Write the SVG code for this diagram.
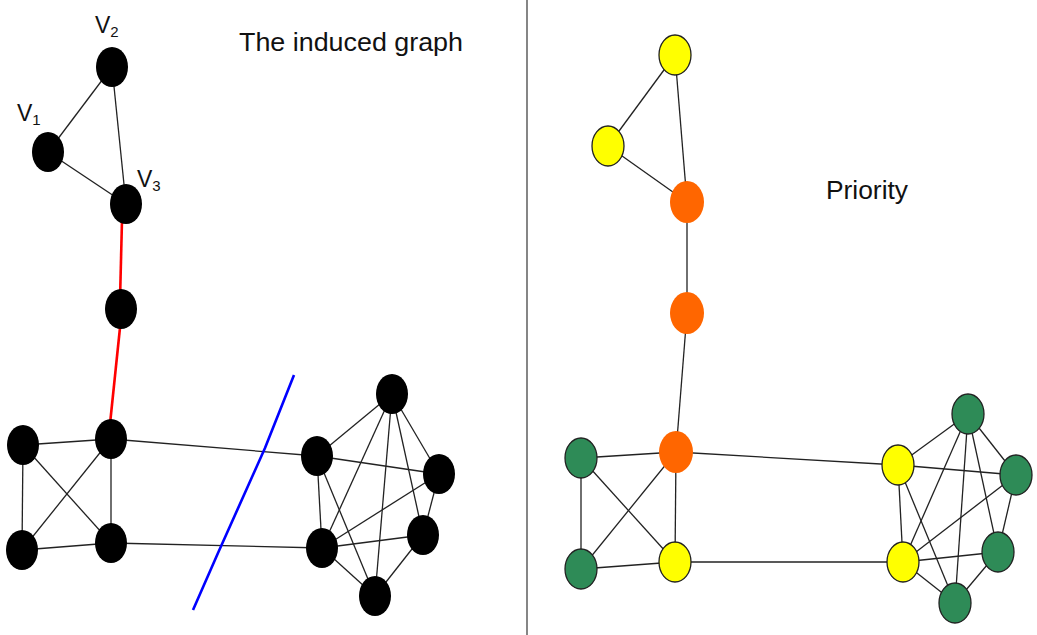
<svg xmlns="http://www.w3.org/2000/svg" width="1037" height="635" viewBox="0 0 1037 635">
<style>
.e{stroke:#222;stroke-width:1.3;fill:none}
.b{fill:#000}
.y{fill:#ffff00;stroke:#222;stroke-width:1.3}
.g{fill:#2e8b57;stroke:#222;stroke-width:1.3}
.o{fill:#ff6600}
.t{font-family:"Liberation Sans",Arial,sans-serif;fill:#111}
</style>
<rect width="1037" height="635" fill="#fff"/>
<line x1="527" y1="0" x2="527" y2="635" stroke="#444" stroke-width="1.3"/>
<g id="connectors">
<!-- left triangle -->
<line class="e" x1="48" y1="152" x2="112" y2="67"/>
<line class="e" x1="112" y1="67" x2="126" y2="204"/>
<line class="e" x1="48" y1="152" x2="126" y2="204"/>
<!-- red path -->
<line x1="122" y1="220" x2="120" y2="300" stroke="#ff0000" stroke-width="2.6"/>
<line x1="121" y1="318" x2="110" y2="424" stroke="#ff0000" stroke-width="2.6"/>
<!-- left square -->
<line class="e" x1="23" y1="445" x2="111" y2="439"/>
<line class="e" x1="23" y1="445" x2="22" y2="550"/>
<line class="e" x1="23" y1="445" x2="111" y2="543"/>
<line class="e" x1="111" y1="439" x2="22" y2="550"/>
<line class="e" x1="111" y1="439" x2="111" y2="543"/>
<line class="e" x1="22" y1="550" x2="111" y2="543"/>
<line class="e" x1="111" y1="439" x2="317" y2="456"/>
<line class="e" x1="111" y1="543" x2="322" y2="548"/>
<!-- left cluster -->
<line class="e" x1="317" y1="456" x2="392" y2="394"/>
<line class="e" x1="317" y1="456" x2="439" y2="474"/>
<line class="e" x1="317" y1="456" x2="322" y2="548"/>
<line class="e" x1="317" y1="456" x2="375" y2="596"/>
<line class="e" x1="392" y1="394" x2="322" y2="548"/>
<line class="e" x1="392" y1="394" x2="375" y2="596"/>
<line class="e" x1="392" y1="394" x2="423" y2="535"/>
<line class="e" x1="392" y1="394" x2="439" y2="474"/>
<line class="e" x1="439" y1="474" x2="423" y2="535"/>
<line class="e" x1="439" y1="474" x2="322" y2="548"/>
<line class="e" x1="322" y1="548" x2="423" y2="535"/>
<line class="e" x1="322" y1="548" x2="375" y2="596"/>
<line class="e" x1="423" y1="535" x2="375" y2="596"/>
<!-- blue cut -->
<polyline points="294,375 265,448 218,553 193,610" fill="none" stroke="#0000ff" stroke-width="2.6" stroke-linejoin="round"/>
<!-- right triangle -->
<line class="e" x1="608" y1="146" x2="675" y2="55"/>
<line class="e" x1="675" y1="55" x2="687" y2="202"/>
<line class="e" x1="608" y1="146" x2="687" y2="202"/>
<line class="e" x1="687" y1="202" x2="687" y2="313"/>
<line class="e" x1="687" y1="313" x2="676" y2="452"/>
<!-- right square -->
<line class="e" x1="581" y1="458" x2="676" y2="452"/>
<line class="e" x1="581" y1="458" x2="581" y2="569"/>
<line class="e" x1="581" y1="458" x2="675" y2="562"/>
<line class="e" x1="676" y1="452" x2="581" y2="569"/>
<line class="e" x1="676" y1="452" x2="675" y2="562"/>
<line class="e" x1="581" y1="569" x2="675" y2="562"/>
<line class="e" x1="676" y1="452" x2="898" y2="465"/>
<line class="e" x1="675" y1="562" x2="903" y2="562"/>
<!-- right cluster -->
<line class="e" x1="898" y1="465" x2="968" y2="414"/>
<line class="e" x1="898" y1="465" x2="1016" y2="475"/>
<line class="e" x1="898" y1="465" x2="903" y2="562"/>
<line class="e" x1="898" y1="465" x2="955" y2="603"/>
<line class="e" x1="968" y1="414" x2="903" y2="562"/>
<line class="e" x1="968" y1="414" x2="955" y2="603"/>
<line class="e" x1="968" y1="414" x2="998" y2="552"/>
<line class="e" x1="968" y1="414" x2="1016" y2="475"/>
<line class="e" x1="1016" y1="475" x2="998" y2="552"/>
<line class="e" x1="1016" y1="475" x2="903" y2="562"/>
<line class="e" x1="903" y1="562" x2="998" y2="552"/>
<line class="e" x1="903" y1="562" x2="955" y2="603"/>
<line class="e" x1="998" y1="552" x2="955" y2="603"/>
</g>
<g id="L-v2"><ellipse class="b" cx="112" cy="67" rx="16" ry="20"/></g>
<g id="L-v1"><ellipse class="b" cx="48" cy="152" rx="16" ry="20"/></g>
<g id="L-v3"><ellipse class="b" cx="126" cy="204" rx="16" ry="20"/></g>
<g id="L-mid"><ellipse class="b" cx="121" cy="309" rx="16" ry="20"/></g>
<g id="L-sq-tl"><ellipse class="b" cx="23" cy="445" rx="16" ry="20"/></g>
<g id="L-sq-tr"><ellipse class="b" cx="111" cy="439" rx="16" ry="20"/></g>
<g id="L-sq-bl"><ellipse class="b" cx="22" cy="550" rx="16" ry="20"/></g>
<g id="L-sq-br"><ellipse class="b" cx="111" cy="543" rx="16" ry="20"/></g>
<g id="L-c-a"><ellipse class="b" cx="317" cy="456" rx="16" ry="20"/></g>
<g id="L-c-top"><ellipse class="b" cx="392" cy="394" rx="16" ry="20"/></g>
<g id="L-c-right"><ellipse class="b" cx="439" cy="474" rx="16" ry="20"/></g>
<g id="L-c-bl"><ellipse class="b" cx="322" cy="548" rx="16" ry="20"/></g>
<g id="L-c-lr"><ellipse class="b" cx="423" cy="535" rx="16" ry="20"/></g>
<g id="L-c-bottom"><ellipse class="b" cx="375" cy="596" rx="16" ry="20"/></g>
<g id="R-v2"><ellipse class="y" cx="675" cy="55" rx="16" ry="20"/></g>
<g id="R-v1"><ellipse class="y" cx="608" cy="146" rx="16" ry="20"/></g>
<g id="R-v3"><ellipse class="o" cx="687" cy="202" rx="17" ry="21"/></g>
<g id="R-mid"><ellipse class="o" cx="687" cy="313" rx="17" ry="21"/></g>
<g id="R-sq-tr"><ellipse class="o" cx="676" cy="452" rx="17" ry="21"/></g>
<g id="R-sq-tl"><ellipse class="g" cx="581" cy="458" rx="16" ry="20"/></g>
<g id="R-sq-bl"><ellipse class="g" cx="581" cy="569" rx="16" ry="20"/></g>
<g id="R-sq-br"><ellipse class="y" cx="675" cy="562" rx="16" ry="20"/></g>
<g id="R-c-a"><ellipse class="y" cx="898" cy="465" rx="16" ry="20"/></g>
<g id="R-c-top"><ellipse class="g" cx="968" cy="414" rx="16" ry="20"/></g>
<g id="R-c-right"><ellipse class="g" cx="1016" cy="475" rx="16" ry="20"/></g>
<g id="R-c-bl"><ellipse class="y" cx="903" cy="562" rx="16" ry="20"/></g>
<g id="R-c-lr"><ellipse class="g" cx="998" cy="552" rx="16" ry="20"/></g>
<g id="R-c-bottom"><ellipse class="g" cx="955" cy="603" rx="16" ry="20"/></g>
<g id="labels">
<text class="t" x="239" y="51" font-size="26" textLength="224" lengthAdjust="spacingAndGlyphs">The induced graph</text>
<text class="t" x="826" y="199" font-size="26" textLength="82" lengthAdjust="spacingAndGlyphs">Priority</text>
<text class="t" x="95" y="33" font-size="23">V<tspan font-size="15" dy="4">2</tspan></text>
<text class="t" x="17" y="121" font-size="23">V<tspan font-size="15" dy="4">1</tspan></text>
<text class="t" x="137" y="187" font-size="23">V<tspan font-size="15" dy="4">3</tspan></text>
</g>
</svg>
